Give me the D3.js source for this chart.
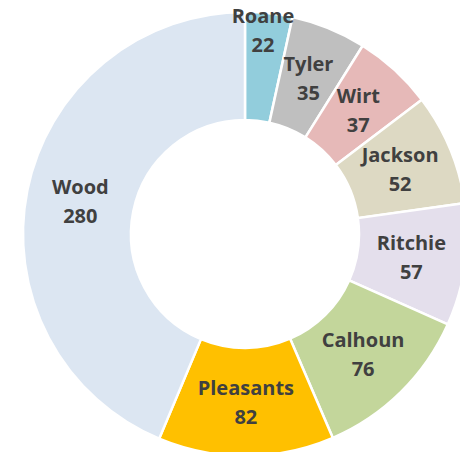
<!DOCTYPE html>
<html>
<head>
<meta charset="utf-8">
<script src="https://cdn.jsdelivr.net/npm/d3@7"></script>
<style>
html,body{margin:0;padding:0;background:#fff;}
svg{display:block;}
</style>
</head>
<body>
<svg id="chart" width="460" height="452"></svg>
<script>
const categories = ["Roane","Tyler","Wirt","Jackson","Ritchie","Calhoun","Pleasants","Wood"];
const values = [22,35,37,52,57,76,82,280];
const colors = ["#92CDDC","#BFBFBF","#E6B9B8","#DDD9C3","#E4DFEC","#C3D69B","#FFC000","#DCE6F2"];

const svg = d3.select("#chart");
const cx = 245, cy = 234, outerR = 222, innerR = 114;
const g = svg.append("g").attr("transform", `translate(${cx},${cy})`);

const data = categories.map((c,i)=>({name:c, value:values[i], color:colors[i]}));
const pie = d3.pie().value(d=>d.value).sort(null);
const arcs = pie(data);
const arc = d3.arc().innerRadius(innerR).outerRadius(outerR);

g.selectAll("path").data(arcs).join("path")
  .attr("d", arc)
  .attr("fill", d=>d.data.color)
  .attr("stroke", "#fff")
  .attr("stroke-width", 2.5)
  .attr("stroke-linejoin", "miter");

const midR = (innerR+outerR)/2;
// small slice label pushed outward (as in reference)
const labelR = d => d.data.name === "Roane" ? 205 : midR;
const labelAngle = d => d.data.name === "Roane" ? (d.startAngle+d.endAngle)/2 - 0.02 : (d.startAngle+d.endAngle)/2;

const labels = g.selectAll("text.lbl").data(arcs).join("text")
  .attr("class","lbl")
  .attr("font-family","'Open Sans', sans-serif")
  .attr("font-weight","bold")
  .attr("font-size","20px")
  .attr("fill","#404040")
  .attr("text-anchor","middle")
  .attr("transform", d=>{
    const a = labelAngle(d), r = labelR(d);
    return `translate(${r*Math.sin(a)},${-r*Math.cos(a)})`;
  });
labels.append("tspan").attr("x",0).attr("dy","-0.35em").text(d=>d.data.name);
labels.append("tspan").attr("x",0).attr("dy","1.45em").text(d=>d.data.value);
</script>
</body>
</html>
